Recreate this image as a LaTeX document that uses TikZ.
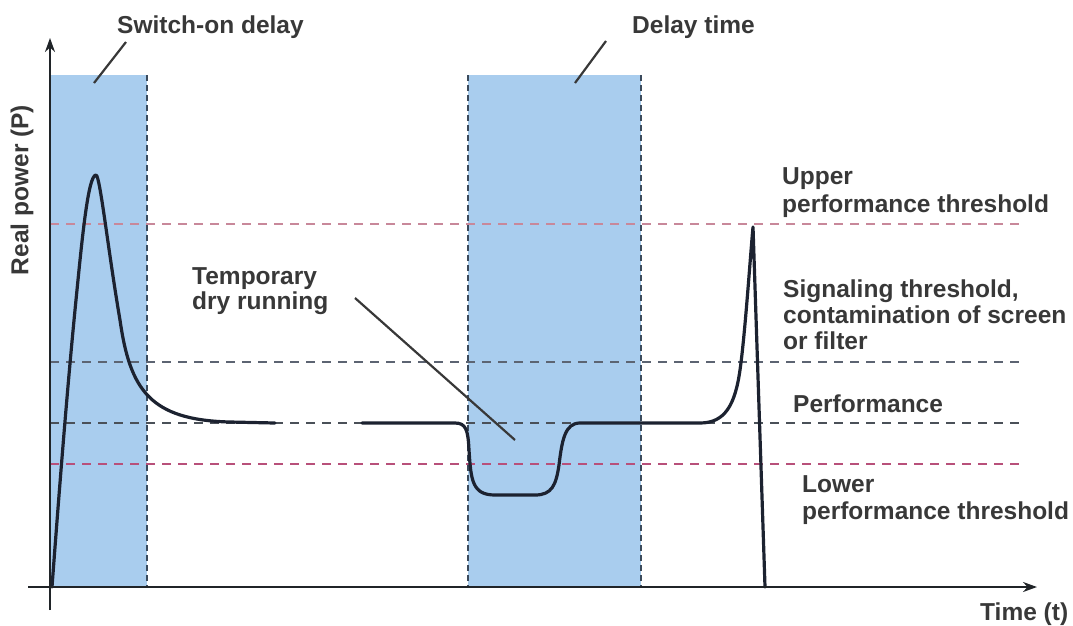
\documentclass[tikz,border=0pt]{standalone}
\usepackage{fontspec}
\setmainfont{Liberation Sans}
\usetikzlibrary{arrows.meta}
\definecolor{bluefill}{HTML}{A9CDEE}
\definecolor{edgecol}{HTML}{3A4A5C}
\definecolor{uppercol}{HTML}{C8889A}
\definecolor{signalcol}{HTML}{5C6472}
\definecolor{perfcol}{HTML}{4A5058}
\definecolor{lowercol}{HTML}{B8507A}
\definecolor{curvecol}{HTML}{1C2230}
\definecolor{txtcol}{HTML}{383838}
\definecolor{axiscol}{HTML}{202428}
\tikzset{
  lbl/.style={text=txtcol, inner sep=0pt, font=\bfseries\fontsize{24.5}{28}\selectfont, align=left},
  band/.style={fill=bluefill, draw=none},
  bandedge/.style={draw=edgecol, line width=2.5pt, dash pattern=on 6pt off 4pt},
  thr/.style={line width=1.8pt, dash pattern=on 9pt off 7pt},
  axis/.style={draw=axiscol, line width=2.2pt, -{Stealth[length=14pt,width=10pt]}},
  pointer/.style={draw=txtcol, line width=2.2pt},
  curve/.style={draw=curvecol, line width=3.2pt, line join=round, line cap=round}
}
\begin{document}
\begin{tikzpicture}[x=1pt,y=-1pt]
\useasboundingbox (0,0) rectangle (1073,625);
% bands
\fill[band] (51,75) rectangle (147,587);
\fill[band] (468,75) rectangle (641,587);
% thresholds
\coordinate (uL) at (50,224); \coordinate (uR) at (1025,224);
\coordinate (sL) at (50,362); \coordinate (sR) at (1025,362);
\coordinate (pL) at (50,423); \coordinate (pR) at (1025,423);
\coordinate (lL) at (50,464); \coordinate (lR) at (1025,464);
\draw[thr, draw=uppercol] (uL) -- (uR);
\draw[thr, draw=signalcol] (sL) -- (sR);
\draw[thr, draw=perfcol, line width=2.8pt] (pL) -- (pR);
\draw[thr, draw=lowercol] (lL) -- (lR);
% band edges
\coordinate (b1t) at (147,75); \coordinate (b1b) at (147,587);
\coordinate (b2lt) at (468,75); \coordinate (b2lb) at (468,587);
\coordinate (b2rt) at (641,75); \coordinate (b2rb) at (641,587);
\draw[bandedge] (b1t) -- (b1b);
\draw[bandedge] (b2lt) -- (b2lb);
\draw[bandedge] (b2rt) -- (b2rb);
% curve
\draw[curve] (52,587) .. controls (60,480) and (68,380) .. (76,300)
  .. controls (82,240) and (88,175) .. (96,175)
  .. controls (100,175) and (108,250) .. (120,320)
  .. controls (130,390) and (150,420) .. (230,422) -- (275,423);
\draw[curve] (362,423) -- (455,423)
  .. controls (466,423) and (468,430) .. (469,450)
  .. controls (471,480) and (472,495) .. (495,495) -- (535,495)
  .. controls (552,495) and (556,485) .. (559,465)
  .. controls (562,440) and (565,423) .. (580,423) -- (700,423)
  .. controls (725,423) and (735,405) .. (740,370)
  .. controls (745,335) and (750,260) .. (753,227) -- (765,587);
% axes
\coordinate (yb) at (50,610); \coordinate (yt) at (50,38);
\coordinate (xl) at (28,587); \coordinate (xr) at (1037,587);
\draw[axis] (yb) -- (yt);
\draw[axis] (xl) -- (xr);
% labels
\node[lbl, anchor=base west] (swd) at (117,33) {Switch-on delay};
\node[lbl, anchor=base west] (dlt) at (632,33) {Delay time};
\node[lbl, anchor=north west] (upt) at (782,167) {Upper\\performance threshold};
\node[lbl, anchor=north west, font=\bfseries\fontsize{24.5}{26}\selectfont] (sig) at (783,280) {Signaling threshold,\\contamination of screen\\or filter};
\node[lbl, anchor=north west] (perf) at (793,395) {Performance};
\node[lbl, anchor=north west, font=\bfseries\fontsize{24.5}{27}\selectfont] (low) at (802,475) {Lower\\performance threshold};
\node[lbl, anchor=north west, font=\bfseries\fontsize{24.5}{25}\selectfont] (tdr) at (192,267) {Temporary\\dry running};
\node[lbl, anchor=base west] (time) at (980,620) {Time (t)};
\node[lbl, rotate=90] (pow) at (22,190) {Real power (P)};
% pointers
\coordinate (p1a) at (94,83); \coordinate (p1b) at (126,42);
\coordinate (p2a) at (575,83); \coordinate (p2b) at (606,41);
\coordinate (p3a) at (355,298); \coordinate (p3b) at (515,440);
\draw[pointer] (p1a) -- (p1b);
\draw[pointer] (p2a) -- (p2b);
\draw[pointer] (p3a) -- (p3b);
\end{tikzpicture}
\end{document}
